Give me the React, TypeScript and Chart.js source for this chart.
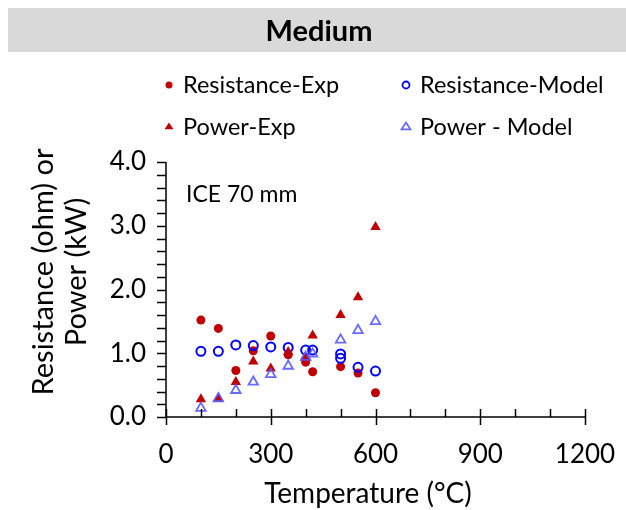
import React, { useEffect, useRef } from "react";
import { Chart, registerables } from "chart.js";

Chart.register(...registerables);

const chartTitle = "Medium";
const annotation = "ICE 70 mm";
const xTitle = "Temperature (°C)";
const yTitleLines = ["Resistance (ohm) or", "Power (kW)"];

const xTickValues = [0, 300, 600, 900, 1200];
const yTickValues = [0, 1, 2, 3, 4];

const resExpTemp = [100, 150, 200, 250, 300, 350, 400, 420, 500, 550, 600];
const resExpValues = [1.52, 1.39, 0.73, 1.04, 1.27, 0.975, 0.86, 0.71, 0.79, 0.69, 0.38];

const resModelTemp = [100, 150, 200, 250, 300, 350, 400, 420, 500, 500, 550, 600];
const resModelValues = [1.03, 1.03, 1.13, 1.12, 1.1, 1.09, 1.05, 1.05, 0.99, 0.92, 0.78, 0.72];

const powExpTemp = [100, 150, 200, 250, 300, 350, 400, 420, 500, 550, 600];
const powExpValues = [0.28, 0.29, 0.55, 0.87, 0.76, 1.02, 0.93, 1.28, 1.6, 1.88, 2.98];

const powModelTemp = [100, 150, 200, 250, 300, 350, 400, 420, 500, 550, 600];
const powModelValues = [0.14, 0.29, 0.42, 0.55, 0.67, 0.8, 0.94, 0.99, 1.21, 1.36, 1.5];

const RED = "#c00000";
const BLUE = "#0000ff";
const LIGHTBLUE = "rgba(90,90,255,0.9)";
const FONT = "Lato, 'Open Sans', sans-serif";

const toPts = (xs: number[], ys: number[]) => xs.map((x, i) => ({ x, y: ys[i] }));

function drawMarker(ctx: CanvasRenderingContext2D, style: string, x: number, y: number, r: number, fill: string, stroke: string, lw: number) {
  ctx.save();
  ctx.beginPath();
  if (style === "circle") {
    ctx.arc(x, y, r, 0, Math.PI * 2);
  } else {
    const h = r * 1.5;
    ctx.moveTo(x, y - h * 0.66);
    ctx.lineTo(x + r, y + h * 0.34);
    ctx.lineTo(x - r, y + h * 0.34);
    ctx.closePath();
  }
  if (fill !== "transparent") {
    ctx.fillStyle = fill;
    ctx.fill();
  }
  if (lw > 0) {
    ctx.lineWidth = lw;
    ctx.strokeStyle = stroke;
    ctx.stroke();
  }
  ctx.restore();
}

const decorPlugin = {
  id: "decor",
  beforeDraw(chart: any) {
    const ctx = chart.ctx as CanvasRenderingContext2D;
    ctx.save();
    ctx.fillStyle = "#ffffff";
    ctx.fillRect(0, 0, chart.width, chart.height);
    ctx.fillStyle = "#d9d9d9";
    ctx.fillRect(8, 8, chart.width - 8, 44);
    ctx.fillStyle = "#000";
    ctx.font = `bold 29px ${FONT}`;
    ctx.textAlign = "center";
    ctx.textBaseline = "middle";
    ctx.fillText(chartTitle, 319, 32);
    ctx.restore();
  },
  afterDraw(chart: any) {
    const ctx = chart.ctx as CanvasRenderingContext2D;
    const xs = chart.scales.x;
    const ys = chart.scales.y;
    const ca = chart.chartArea;
    ctx.save();
    ctx.strokeStyle = "#000";
    ctx.lineWidth = 1.5;
    ctx.beginPath();
    ctx.moveTo(ca.left, ca.top);
    ctx.lineTo(ca.left, ca.bottom);
    ctx.lineTo(ca.right, ca.bottom);
    ctx.stroke();
    ctx.beginPath();
    for (let i = 0; i <= 20; i++) {
      const py = Math.round(ys.getPixelForValue(i * 0.2)) + 0.5;
      ctx.moveTo(ca.left - 9, py);
      ctx.lineTo(ca.left, py);
    }
    for (let v = 0; v <= 1200; v += 100) {
      const px = Math.round(xs.getPixelForValue(v)) + 0.5;
      if (v % 300 === 0) {
        ctx.moveTo(px, ca.bottom - 8);
        ctx.lineTo(px, ca.bottom + 8);
      } else {
        ctx.moveTo(px, ca.bottom - 8);
        ctx.lineTo(px, ca.bottom);
      }
    }
    ctx.stroke();

    ctx.fillStyle = "#000";
    ctx.textAlign = "center";
    ctx.textBaseline = "middle";
    ctx.font = `28px ${FONT}`;
    ctx.fillText(xTitle, 368, 494);
    ctx.save();
    ctx.translate(0, 272);
    ctx.rotate(-Math.PI / 2);
    ctx.font = `29px ${FONT}`;
    ctx.fillText(yTitleLines[0], 0, 44);
    ctx.fillText(yTitleLines[1], 0, 77);
    ctx.restore();

    ctx.textAlign = "left";
    ctx.font = `23px ${FONT}`;
    ctx.fillText(annotation, 186, 195);

    const ds = chart.data.datasets;
    const slots = [
      { i: 0, mx: 169, ty: 85 },
      { i: 1, mx: 406, ty: 85 },
      { i: 2, mx: 169, ty: 127 },
      { i: 3, mx: 406, ty: 127 },
    ];
    ctx.font = `23.5px ${FONT}`;
    for (const s of slots) {
      const d = ds[s.i];
      drawMarker(ctx, d.pointStyle, s.mx, s.ty, d.pointStyle === "circle" ? 3.5 : 4.5, d.backgroundColor, d.borderColor, d.pointBorderWidth ? 1.8 : 0);
      ctx.fillStyle = "#000";
      ctx.fillText(d.label, s.mx + 14, s.ty);
    }
    ctx.restore();
  },
};

export default function App() {
  const ref = useRef<HTMLCanvasElement | null>(null);
  useEffect(() => {
    document.body.style.margin = "0";
    document.body.style.overflow = "hidden";
    const canvas = ref.current!;
    const chart = new Chart(canvas, {
      type: "scatter",
      data: {
        datasets: [
          {
            label: "Resistance-Exp",
            data: toPts(resExpTemp, resExpValues),
            pointStyle: "circle",
            backgroundColor: RED,
            borderColor: RED,
            pointRadius: 4.5,
            pointBorderWidth: 0,
            order: 4,
          } as any,
          {
            label: "Resistance-Model",
            data: toPts(resModelTemp, resModelValues),
            pointStyle: "circle",
            backgroundColor: "transparent",
            borderColor: BLUE,
            pointRadius: 4.5,
            pointBorderWidth: 2,
            order: 3,
          },
          {
            label: "Power-Exp",
            data: toPts(powExpTemp, powExpValues),
            pointStyle: "triangle",
            backgroundColor: RED,
            borderColor: RED,
            pointRadius: 6,
            pointBorderWidth: 0,
            order: 2,
          },
          {
            label: "Power - Model",
            data: toPts(powModelTemp, powModelValues),
            pointStyle: "triangle",
            backgroundColor: "transparent",
            borderColor: LIGHTBLUE,
            pointRadius: 5.5,
            pointBorderWidth: 1.8,
            order: 1,
          },
        ],
      },
      options: {
        animation: false,
        responsive: false,
        devicePixelRatio: 1,
        layout: { padding: { left: 0, top: 162, right: 41, bottom: 0 } },
        plugins: {
          legend: { display: false },
          tooltip: { enabled: false },
          title: { display: false },
        },
        scales: {
          x: {
            type: "linear",
            min: 0,
            max: 1200,
            afterBuildTicks: (s: any) => {
              s.ticks = xTickValues.map((v) => ({ value: v }));
            },
            ticks: {
              color: "#000",
              font: { family: FONT, size: 26 },
              padding: 22,
              maxRotation: 0,
              autoSkip: false,
              callback: (v: any) => String(v),
            },
            grid: { display: false, drawTicks: false },
            border: { display: false },
            afterFit: (s: any) => {
              s.height = 93;
              s.paddingRight = 0;
              s.paddingLeft = 0;
            },
          },
          y: {
            type: "linear",
            min: 0,
            max: 4,
            afterBuildTicks: (s: any) => {
              s.ticks = yTickValues.map((v) => ({ value: v }));
            },
            ticks: {
              color: "#000",
              font: { family: FONT, size: 26 },
              padding: 20,
              autoSkip: false,
              callback: (v: any) => Number(v).toFixed(1),
            },
            grid: { display: false, drawTicks: false },
            border: { display: false },
            afterFit: (s: any) => {
              s.width = 166;
              s.paddingTop = 0;
              s.paddingBottom = 0;
            },
          },
        },
      },
      plugins: [decorPlugin],
    });
    return () => chart.destroy();
  }, []);
  return (
    <div style={{ width: 626, height: 510 }}>
      <canvas ref={ref} width={626} height={510} style={{ display: "block" }} />
    </div>
  );
}
